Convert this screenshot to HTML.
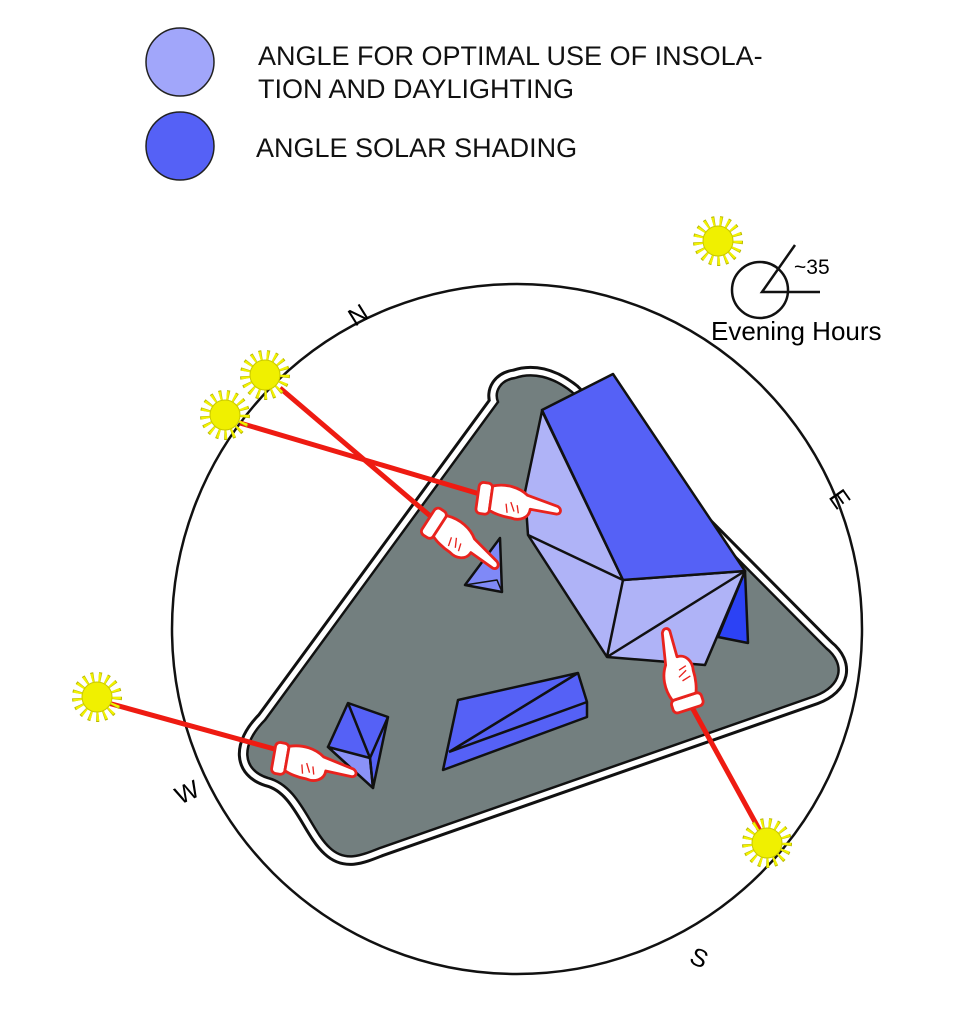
<!DOCTYPE html>
<html><head><style>body{margin:0;background:#fff}svg{display:block}</style></head><body>
<svg width="977" height="1024" viewBox="0 0 977 1024" xmlns="http://www.w3.org/2000/svg" font-family="Liberation Sans, sans-serif">
<defs>
<g id="sun"><circle r="19" fill="none" stroke="#b8b800" stroke-width="12" stroke-dasharray="2.5 4.5"/><circle r="19" fill="none" stroke="#f2f200" stroke-width="10" stroke-dasharray="2 5"/><circle r="15" fill="#f0f000" stroke="#c8c800" stroke-width="1"/></g>
<g id="hand" fill="#fff" stroke="#e8231e" stroke-width="2.5" stroke-linejoin="round">
<rect x="-4" y="-14" width="12" height="28" rx="4"/>
<path d="M8,-12 C20,-16 32,-14 40,-8 L68,-2 C72,0 72,4 68,5 L44,4 C44,12 36,16 28,14 C20,14 12,12 8,10 Z"/>
<path d="M26,0 l4,8 M32,2 l2,7 M22,2 l2,8" fill="none" stroke-width="1.2"/>
</g>
</defs>
<circle cx="180" cy="62" r="34" fill="#a1a6fa" stroke="#222" stroke-width="1.5"/>
<circle cx="180" cy="146" r="34" fill="#5561f6" stroke="#222" stroke-width="1.5"/>
<text x="258" y="65" font-size="27" fill="#111">ANGLE FOR OPTIMAL USE OF INSOLA-</text>
<text x="258" y="98" font-size="27" fill="#111">TION AND DAYLIGHTING</text>
<text x="256" y="157" font-size="27" fill="#111">ANGLE SOLAR SHADING</text>
<circle cx="517" cy="629" r="345" fill="none" stroke="#111" stroke-width="2.5"/>
<text x="0" y="0" font-size="25" transform="translate(355,327) rotate(-32)">N</text>
<text x="0" y="0" font-size="25" transform="translate(828,497) rotate(55)">E</text>
<text x="0" y="0" font-size="25" transform="translate(180,805) rotate(-25)">W</text>
<text x="0" y="0" font-size="25" transform="translate(688,962) rotate(25)">S</text>
<use href="#sun" x="718" y="241"/>
<circle cx="760" cy="290" r="28" fill="none" stroke="#111" stroke-width="2.5"/>
<polyline points="795,245 762,292 820,292" fill="none" stroke="#111" stroke-width="2.5"/>
<text x="794" y="274" font-size="21">~35</text>
<text x="711" y="340" font-size="26">Evening Hours</text>
<path d="M515,378 C500,380 494,392 498,402 L265,720 C240,745 242,770 268,778 C300,786 310,830 330,848 C345,862 360,856 380,848 L815,696 C842,686 846,664 826,648 L572,392 C552,376 532,372 515,378 Z" fill="none" stroke="#111" stroke-width="19"/>
<path d="M515,378 C500,380 494,392 498,402 L265,720 C240,745 242,770 268,778 C300,786 310,830 330,848 C345,862 360,856 380,848 L815,696 C842,686 846,664 826,648 L572,392 C552,376 532,372 515,378 Z" fill="none" stroke="#fff" stroke-width="13"/>
<path d="M515,378 C500,380 494,392 498,402 L265,720 C240,745 242,770 268,778 C300,786 310,830 330,848 C345,862 360,856 380,848 L815,696 C842,686 846,664 826,648 L572,392 C552,376 532,372 515,378 Z" fill="#737f7f" stroke="#111" stroke-width="2.5"/>
<g stroke="#111" stroke-width="2.5" stroke-linejoin="round">
<polygon points="745,571 748,643 718,637" fill="#2c42f5"/>
<polygon points="542,411 525,492 528,535 607,657 705,665 745,571 623,580" fill="#afb3f7"/>
<polygon points="542,410 613,374 745,571 623,580" fill="#5561f6"/>
<path d="M528,535 L623,580 L607,657 M607,657 L745,571" fill="none"/>
<polygon points="500,538 465,585 502,592" fill="#7f89f7"/>
<path d="M465,585 L497,580 L502,592" fill="none" stroke-width="1.5"/>
<polygon points="348,703 388,717 373,788 328,747" fill="#5561f6"/>
<polygon points="328,747 370,758 373,788" fill="#8a92f7"/>
<path d="M348,703 L370,758 L388,717 M370,758 L373,788" fill="none"/>
<polygon points="458,700 578,673 587,702 587,717 443,770" fill="#5561f6"/>
<path d="M449,752 L578,673 M449,752 L587,702" fill="none"/>
</g>
<g stroke="#ee1b12" stroke-width="5">
<line x1="280" y1="388" x2="435" y2="520"/>
<line x1="240" y1="423" x2="483" y2="495"/>
<line x1="108" y1="703" x2="278" y2="750"/>
<line x1="765" y1="840" x2="688" y2="700"/>
</g>
<use href="#sun" x="265" y="375"/>
<use href="#sun" x="225" y="415"/>
<use href="#sun" x="97" y="697"/>
<use href="#sun" x="767" y="843"/>
<use href="#hand" transform="translate(482,498) rotate(8) scale(1.12)"/>
<use href="#hand" transform="translate(432,522) rotate(33) scale(1.12)"/>
<use href="#hand" transform="translate(278,758) rotate(10) scale(1.12)"/>
<use href="#hand" transform="translate(688,705) rotate(-108) scale(1.12)"/>
</svg>
</body></html>
